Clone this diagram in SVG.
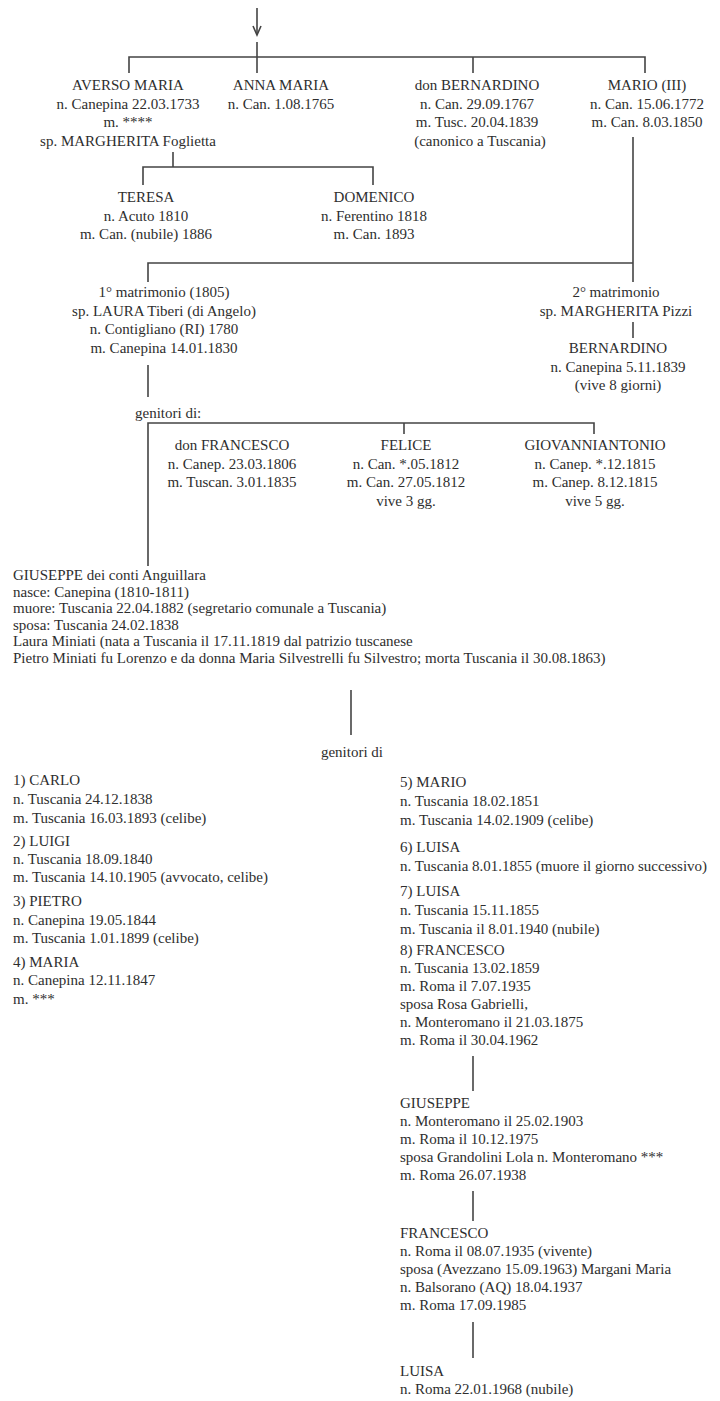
<svg xmlns="http://www.w3.org/2000/svg" width="720" height="1401" viewBox="0 0 720 1401">
<style>
text{font-family:"Liberation Serif","DejaVu Serif",serif;font-size:15px;fill:#2e2e2e}
.c{text-anchor:middle}
.ln{stroke:#444;stroke-width:1.6;fill:none}
</style>
<rect width="720" height="1401" fill="#fff"/>
<g id="connectors">
<line class="ln" x1="257" y1="8" x2="257" y2="34"/>
<polyline class="ln" points="253,26 257,35 261,26"/>
<line class="ln" x1="257" y1="42" x2="257" y2="73"/>
<polyline class="ln" points="129,73 129,57 645,57 645,73"/>
<line class="ln" x1="473" y1="57" x2="473" y2="73"/>
<line class="ln" x1="173" y1="152" x2="173" y2="167"/>
<polyline class="ln" points="143,185 143,167 373,167 373,185"/>
<line class="ln" x1="633" y1="137" x2="633" y2="282"/>
<polyline class="ln" points="148,282 148,263 633,263"/>
<line class="ln" x1="633" y1="322" x2="633" y2="338"/>
<line class="ln" x1="148" y1="365" x2="148" y2="397"/>
<polyline class="ln" points="148,566 148,423 594,423 594,434"/>
<line class="ln" x1="404" y1="423" x2="404" y2="434"/>
<line class="ln" x1="351" y1="690" x2="351" y2="735"/>
<line class="ln" x1="473" y1="1056" x2="473" y2="1091"/>
<line class="ln" x1="473" y1="1191" x2="473" y2="1221"/>
<line class="ln" x1="473" y1="1322" x2="473" y2="1358"/>
</g>
<g id="averso">
<text class="c" x="128" y="90">AVERSO MARIA</text>
<text class="c" x="128" y="108.5">n. Canepina 22.03.1733</text>
<text class="c" x="128" y="127">m. ****</text>
<text class="c" x="128" y="145.5">sp. MARGHERITA Foglietta</text>
</g>
<g id="anna">
<text class="c" x="281" y="90">ANNA MARIA</text>
<text class="c" x="281" y="108.5">n. Can. 1.08.1765</text>
</g>
<g id="bernardino">
<text class="c" x="477" y="90">don BERNARDINO</text>
<text class="c" x="477" y="108.5">n. Can. 29.09.1767</text>
<text class="c" x="477" y="127">m. Tusc. 20.04.1839</text>
<text class="c" x="480" y="145.5">(canonico a Tuscania)</text>
</g>
<g id="mario">
<text class="c" x="647" y="90">MARIO (III)</text>
<text class="c" x="647" y="108.5">n. Can. 15.06.1772</text>
<text class="c" x="647" y="127">m. Can. 8.03.1850</text>
</g>
<g id="teresa">
<text class="c" x="146" y="202">TERESA</text>
<text class="c" x="146" y="220.5">n. Acuto 1810</text>
<text class="c" x="146" y="239">m. Can. (nubile) 1886</text>
</g>
<g id="domenico">
<text class="c" x="374" y="202">DOMENICO</text>
<text class="c" x="374" y="220.5">n. Ferentino 1818</text>
<text class="c" x="374" y="239">m. Can. 1893</text>
</g>
<g id="matrimonio1">
<text class="c" x="164" y="297">1° matrimonio (1805)</text>
<text class="c" x="164" y="315.5">sp. LAURA Tiberi (di Angelo)</text>
<text class="c" x="164" y="334">n. Contigliano (RI) 1780</text>
<text class="c" x="164" y="352.5">m. Canepina 14.01.1830</text>
</g>
<g id="matrimonio2">
<text class="c" x="616" y="297">2° matrimonio</text>
<text class="c" x="616" y="315.5">sp. MARGHERITA Pizzi</text>
</g>
<g id="bernardino2">
<text class="c" x="618" y="353">BERNARDINO</text>
<text class="c" x="618" y="371.5">n. Canepina 5.11.1839</text>
<text class="c" x="618" y="390">(vive 8 giorni)</text>
</g>
<g id="genitori1">
<text x="135" y="418">genitori di:</text>
</g>
<g id="francesco1">
<text class="c" x="232" y="450">don FRANCESCO</text>
<text class="c" x="232" y="468.5">n. Canep. 23.03.1806</text>
<text class="c" x="232" y="487">m. Tuscan. 3.01.1835</text>
</g>
<g id="felice">
<text class="c" x="406" y="450">FELICE</text>
<text class="c" x="406" y="468.5">n. Can. *.05.1812</text>
<text class="c" x="406" y="487">m. Can. 27.05.1812</text>
<text class="c" x="406" y="505.5">vive 3 gg.</text>
</g>
<g id="giovanniantonio">
<text class="c" x="595" y="450">GIOVANNIANTONIO</text>
<text class="c" x="595" y="468.5">n. Canep. *.12.1815</text>
<text class="c" x="595" y="487">m. Canep. 8.12.1815</text>
<text class="c" x="595" y="505.5">vive 5 gg.</text>
</g>
<g id="giuseppe1">
<text x="13" y="580">GIUSEPPE dei conti Anguillara</text>
<text x="13" y="596.5">nasce: Canepina (1810-1811)</text>
<text x="13" y="613">muore: Tuscania 22.04.1882 (segretario comunale a Tuscania)</text>
<text x="13" y="629.5">sposa: Tuscania 24.02.1838</text>
<text x="13" y="646">Laura Miniati (nata a Tuscania il 17.11.1819 dal patrizio tuscanese</text>
<text x="13" y="662.5">Pietro Miniati fu Lorenzo e da donna Maria Silvestrelli fu Silvestro; morta Tuscania il 30.08.1863)</text>
</g>
<g id="genitori2">
<text class="c" x="352" y="757">genitori di</text>
</g>
<g id="carlo">
<text x="13" y="785">1) CARLO</text>
<text x="13" y="804">n. Tuscania 24.12.1838</text>
<text x="13" y="823">m. Tuscania 16.03.1893 (celibe)</text>
</g>
<g id="luigi">
<text x="13" y="846">2) LUIGI</text>
<text x="13" y="864">n. Tuscania 18.09.1840</text>
<text x="13" y="882">m. Tuscania 14.10.1905 (avvocato, celibe)</text>
</g>
<g id="pietro">
<text x="13" y="906">3) PIETRO</text>
<text x="13" y="925">n. Canepina 19.05.1844</text>
<text x="13" y="943">m. Tuscania 1.01.1899 (celibe)</text>
</g>
<g id="maria">
<text x="13" y="967">4) MARIA</text>
<text x="13" y="985">n. Canepina 12.11.1847</text>
<text x="13" y="1004">m. ***</text>
</g>
<g id="mario5">
<text x="400" y="787">5) MARIO</text>
<text x="400" y="806">n. Tuscania 18.02.1851</text>
<text x="400" y="825">m. Tuscania 14.02.1909 (celibe)</text>
</g>
<g id="luisa6">
<text x="400" y="852">6) LUISA</text>
<text x="400" y="871">n. Tuscania 8.01.1855 (muore il giorno successivo)</text>
</g>
<g id="luisa7">
<text x="400" y="896">7) LUISA</text>
<text x="400" y="915">n. Tuscania 15.11.1855</text>
<text x="400" y="934">m. Tuscania il 8.01.1940 (nubile)</text>
</g>
<g id="francesco8">
<text x="400" y="955">8) FRANCESCO</text>
<text x="400" y="973">n. Tuscania 13.02.1859</text>
<text x="400" y="991">m. Roma il 7.07.1935</text>
<text x="400" y="1009">sposa Rosa Gabrielli,</text>
<text x="400" y="1027">n. Monteromano il 21.03.1875</text>
<text x="400" y="1045">m. Roma il 30.04.1962</text>
</g>
<g id="giuseppe2">
<text x="400" y="1108">GIUSEPPE</text>
<text x="400" y="1126">n. Monteromano il 25.02.1903</text>
<text x="400" y="1144">m. Roma il 10.12.1975</text>
<text x="400" y="1162">sposa Grandolini Lola n. Monteromano ***</text>
<text x="400" y="1180">m. Roma 26.07.1938</text>
</g>
<g id="francesco3">
<text x="400" y="1238">FRANCESCO</text>
<text x="400" y="1256">n. Roma il 08.07.1935 (vivente)</text>
<text x="400" y="1274">sposa (Avezzano 15.09.1963) Margani Maria</text>
<text x="400" y="1292">n. Balsorano (AQ) 18.04.1937</text>
<text x="400" y="1310">m. Roma 17.09.1985</text>
</g>
<g id="luisa3">
<text x="400" y="1376">LUISA</text>
<text x="400" y="1394">n. Roma 22.01.1968 (nubile)</text>
</g>
</svg>
